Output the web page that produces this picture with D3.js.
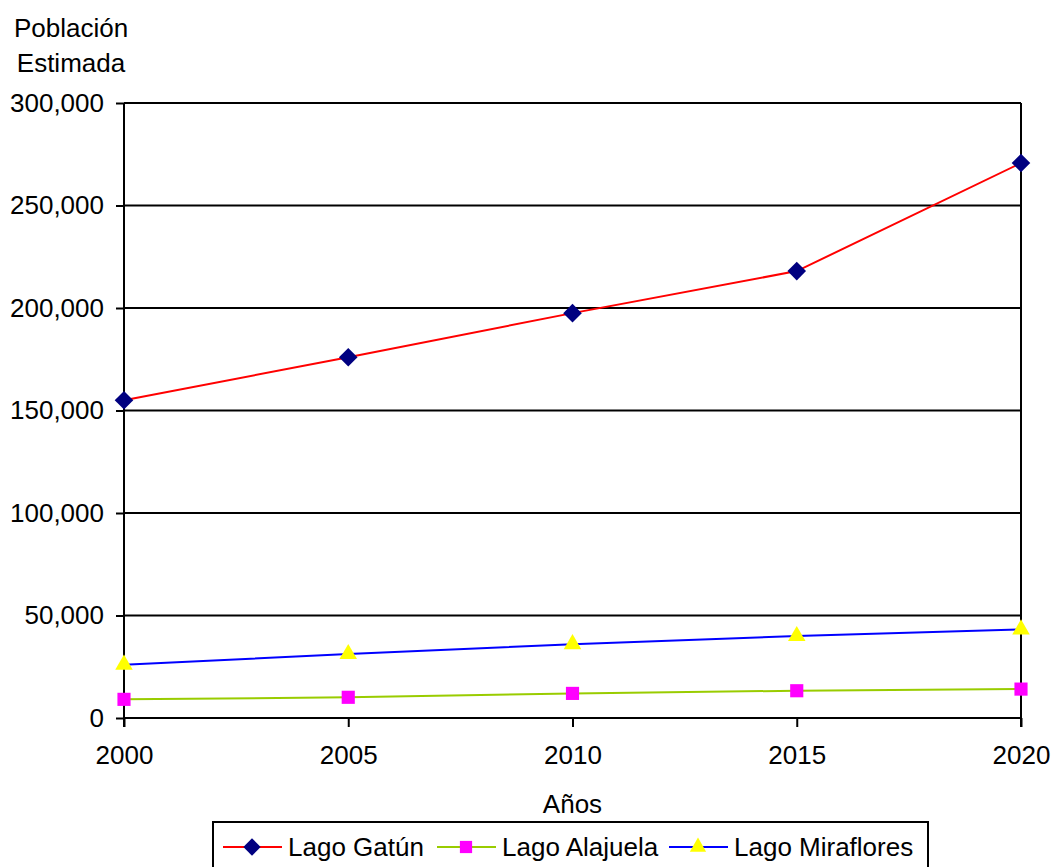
<!DOCTYPE html>
<html>
<head>
<meta charset="utf-8">
<script src="https://cdn.jsdelivr.net/npm/d3@7"></script>
<style>
  body { margin: 0; background: #fff; }
  svg { display: block; font-family: "Liberation Sans", Arial, sans-serif; }
  .axis text { font-size: 26px; fill: #000; }
  .axis path, .axis line { stroke: #000; stroke-width: 2; }
</style>
</head>
<body>
<svg id="chart" width="1052" height="867"></svg>
<script>
var years = [2000, 2005, 2010, 2015, 2020];
var gatun = [155000, 176000, 197500, 218000, 270700];
var alajuela = [9100, 10100, 12000, 13300, 14100];
var miraflores = [26000, 31200, 36000, 40000, 43200];
var yTicks = [0, 50000, 100000, 150000, 200000, 250000, 300000];

var series = [
  { name: "Lago Gatún", values: gatun, line: "#ff0000", fill: "#000080", shape: d3.symbolDiamond2 },
  { name: "Lago Alajuela", values: alajuela, line: "#99cc00", fill: "#ff00ff", shape: d3.symbolSquare2 },
  { name: "Lago Miraflores", values: miraflores, line: "#0000ff", fill: "#ffff00", shape: d3.symbolTriangle2 }
];

var svg = d3.select("#chart"),
  margin = { top: 103, right: 31, bottom: 149, left: 124 },
  width = +svg.attr("width") - margin.left - margin.right,
  height = +svg.attr("height") - margin.top - margin.bottom;

var x = d3.scaleLinear().domain([2000, 2020]).range([0, width]);
var y = d3.scaleLinear().domain([0, 300000]).range([height, 0]);

var g = svg.append("g")
  .attr("transform", "translate(" + margin.left + "," + margin.top + ")");

// gridlines
g.selectAll(".grid")
  .data(yTicks)
  .enter().append("line")
  .attr("class", "grid")
  .attr("x1", 0).attr("x2", width)
  .attr("y1", function (d) { return y(d); })
  .attr("y2", function (d) { return y(d); })
  .attr("stroke", "#000").attr("stroke-width", 2);

// right border
g.append("line")
  .attr("x1", width).attr("x2", width)
  .attr("y1", 0).attr("y2", height + 9)
  .attr("stroke", "#000").attr("stroke-width", 2);

var yAxis = g.append("g")
  .attr("class", "axis")
  .call(d3.axisLeft(y).tickValues(yTicks).tickSize(8).tickPadding(12)
    .tickFormat(d3.format(",")));
yAxis.select(".domain").attr("d", "M0,0V" + (height + 9)).attr("stroke-width", 2.5);

var xAxis = g.append("g")
  .attr("class", "axis")
  .attr("transform", "translate(0," + height + ")")
  .call(d3.axisBottom(x).tickValues(years).tickSize(9).tickPadding(19)
    .tickFormat(d3.format("d")));
xAxis.select(".domain").attr("d", "M0,0H" + width);

// axis titles
svg.append("text").attr("x", 71).attr("y", 37).attr("text-anchor", "middle")
  .attr("font-size", 26).text("Población");
svg.append("text").attr("x", 71).attr("y", 72).attr("text-anchor", "middle")
  .attr("font-size", 26).text("Estimada");
svg.append("text").attr("x", margin.left + width / 2).attr("y", 813).attr("text-anchor", "middle")
  .attr("font-size", 26).text("Años");

var line = d3.line()
  .x(function (d, i) { return x(years[i]); })
  .y(function (d) { return y(d); });

series.forEach(function (s) {
  g.append("path")
    .datum(s.values)
    .attr("fill", "none")
    .attr("stroke", s.line)
    .attr("stroke-width", 2)
    .attr("d", line);

  g.selectAll(null)
    .data(s.values)
    .enter().append("path")
    .attr("transform", function (d, i) { return "translate(" + x(years[i]) + "," + y(d) + ")"; })
    .attr("d", d3.symbol().type(s.shape).size(220))
    .attr("fill", s.fill);
});

// legend
var legend = svg.append("g");
legend.append("rect")
  .attr("x", 213).attr("y", 822).attr("width", 715).attr("height", 50)
  .attr("fill", "#fff").attr("stroke", "#000").attr("stroke-width", 2);

var legendX = [223, 437, 669];
series.forEach(function (s, i) {
  var lg = legend.append("g").attr("transform", "translate(" + legendX[i] + ",847)");
  lg.append("line").attr("x1", 0).attr("x2", 59).attr("y1", 0).attr("y2", 0)
    .attr("stroke", s.line).attr("stroke-width", 2);
  lg.append("path").attr("transform", "translate(29,0)")
    .attr("d", d3.symbol().type(s.shape).size(190)).attr("fill", s.fill);
  lg.append("text").attr("x", 65).attr("y", 9).attr("font-size", 26).text(s.name);
});
</script>
</body>
</html>
